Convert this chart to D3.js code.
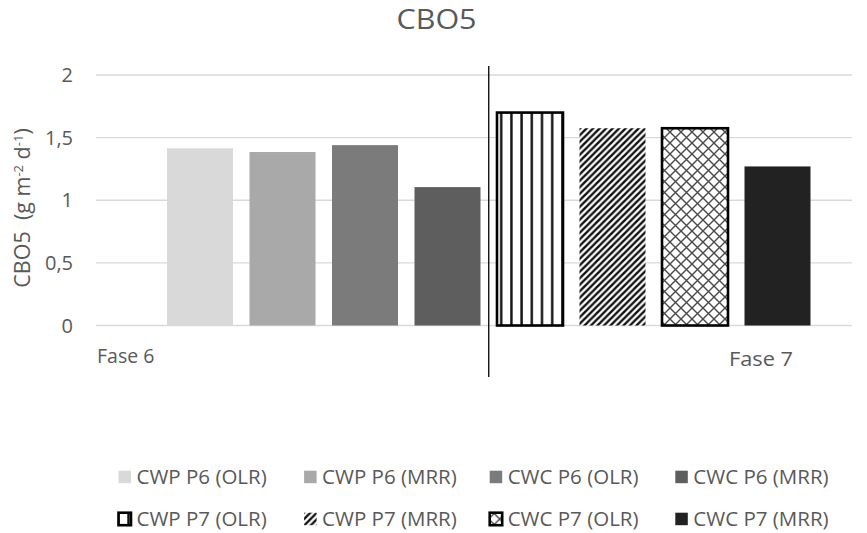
<!DOCTYPE html>
<html>
<head>
<meta charset="utf-8">
<script src="https://cdn.jsdelivr.net/npm/d3@7"></script>
<style>
  html, body { margin: 0; padding: 0; background: #fff; }
  svg { display: block; }
  text { font-family: "Open Sans", "Noto Sans", sans-serif; fill: #595959; white-space: pre; }
</style>
</head>
<body>
<svg id="chart" width="867" height="533"></svg>
<script>
// Series names (one bar each), in drawing order
const seriesNames = [
  "CWP P6 (OLR)", "CWP P6 (MRR)", "CWC P6 (OLR)", "CWC P6 (MRR)",
  "CWP P7 (OLR)", "CWP P7 (MRR)", "CWC P7 (OLR)", "CWC P7 (MRR)"
];
// CBO5 removal values, g m-2 d-1
const values = [1.415, 1.385, 1.44, 1.105, 1.70, 1.575, 1.575, 1.27];
// Phase labels
const phaseLabels = ["Fase 6", "Fase 7"];
// Y axis ticks
const yTicks = [0, 0.5, 1, 1.5, 2];
const yTickLabels = ["0", "0,5", "1", "1,5", "2"];

// Fills: solid greys for phase 6, patterns for phase 7
const fills = ["#d9d9d9", "#a9a9a9", "#7b7b7b", "#5e5e5e",
               "url(#vstripe)", "url(#diag)", "url(#cross)", "#222222"];
const outlined = [false, false, false, false, true, false, true, false];

const svg = d3.select("#chart");
const plot = { left: 96, right: 852, top: 75, bottom: 325.5 };

const y = d3.scaleLinear().domain([0, 2]).range([plot.bottom, plot.top]);
const x = d3.scaleBand().domain(d3.range(values.length))
  .range([150.5, 827]).padding(0.2);

// Pattern definitions
const defs = svg.append("defs");
function vstripe(id, x0) {
  const p = defs.append("pattern").attr("id", id)
    .attr("patternUnits", "userSpaceOnUse")
    .attr("x", x0).attr("y", 0).attr("width", 10.2).attr("height", 10);
  p.append("rect").attr("width", 10.2).attr("height", 10).attr("fill", "#fff");
  p.append("rect").attr("x", 3).attr("width", 2.4).attr("height", 10).attr("fill", "#111");
}
vstripe("vstripe", x(4));
vstripe("vstripeLeg", 118);

const diag = defs.append("pattern").attr("id", "diag")
  .attr("patternUnits", "userSpaceOnUse").attr("width", 6.5).attr("height", 6.5);
diag.append("rect").attr("width", 6.5).attr("height", 6.5).attr("fill", "#fff");
diag.append("path").attr("d", "M-1,1 l2,-2 M0,6.5 l6.5,-6.5 M5.5,7.5 l2,-2")
  .attr("stroke", "#111").attr("stroke-width", 2.4);

const cross = defs.append("pattern").attr("id", "cross")
  .attr("patternUnits", "userSpaceOnUse")
  .attr("x", x(6) - 3).attr("y", 0).attr("width", 11).attr("height", 11);
cross.append("rect").attr("width", 11).attr("height", 11).attr("fill", "#fff");
cross.append("path").attr("d", "M0,0 L11,11 M11,0 L0,11")
  .attr("stroke", "#4a4a4a").attr("stroke-width", 1.4);

// Title
svg.append("text").attr("x", 436.5).attr("y", 29)
  .attr("text-anchor", "middle").attr("font-size", 27)
  .attr("textLength", 80).attr("lengthAdjust", "spacingAndGlyphs")
  .text("CBO5");

// Gridlines
svg.append("g").selectAll("line").data(yTicks).join("line")
  .attr("x1", plot.left).attr("x2", plot.right)
  .attr("y1", d => y(d)).attr("y2", d => y(d))
  .attr("stroke", "#d9d9d9").attr("stroke-width", 1.4);

// Y tick labels
svg.append("g").selectAll("text").data(yTicks).join("text")
  .attr("x", 73).attr("y", d => y(d)).attr("dy", "0.36em")
  .attr("text-anchor", "end").attr("font-size", 20)
  .text((d, i) => yTickLabels[i]);

// Y axis title with superscripts
const yt = svg.append("text")
  .attr("transform", "translate(30,208) rotate(-90)")
  .attr("text-anchor", "middle").attr("font-size", 21.5);
yt.append("tspan").text("CBO5  (g m");
yt.append("tspan").attr("font-size", 13).attr("baseline-shift", "7").text("-2");
yt.append("tspan").text(" d");
yt.append("tspan").attr("font-size", 13).attr("baseline-shift", "7").text("-1");
yt.append("tspan").text(")");

// Bars
svg.append("g").selectAll("rect").data(values).join("rect")
  .attr("x", (d, i) => x(i)).attr("width", x.bandwidth())
  .attr("y", d => y(d)).attr("height", d => y(0) - y(d))
  .attr("fill", (d, i) => fills[i])
  .attr("stroke", (d, i) => outlined[i] ? "#000" : "none")
  .attr("stroke-width", 2.6);

// Phase divider between the two groups of bars
const divX = (x(3) + x.bandwidth() + x(4)) / 2;
svg.append("line").attr("x1", divX).attr("x2", divX)
  .attr("y1", 66).attr("y2", 377)
  .attr("stroke", "#000").attr("stroke-width", 1.3);

// Phase labels
svg.append("text").attr("x", 97).attr("y", 363).attr("font-size", 19.5).text(phaseLabels[0]);
svg.append("text").attr("x", 729).attr("y", 366).attr("font-size", 20.5)
  .attr("textLength", 64).attr("lengthAdjust", "spacingAndGlyphs").text(phaseLabels[1]);

// Legend: two rows of four
const legFills = ["#d9d9d9", "#a9a9a9", "#7b7b7b", "#5e5e5e",
                  "url(#vstripeLeg)", "url(#diag)", "url(#cross)", "#222222"];
const leg = svg.append("g").selectAll("g").data(seriesNames).join("g")
  .attr("transform", (d, i) => `translate(${118.5 + (i % 4) * 185.6},${i < 4 ? 477 : 519})`);
leg.append("rect").attr("x", 0).attr("y", -6.3).attr("width", 12.5).attr("height", 12.5)
  .attr("fill", (d, i) => legFills[i])
  .attr("stroke", (d, i) => outlined[i] ? "#000" : "none")
  .attr("stroke-width", 2.6);
leg.append("text").attr("x", 18).attr("dy", "0.36em").attr("font-size", 20.5)
  .text(d => d);
</script>
</body>
</html>
